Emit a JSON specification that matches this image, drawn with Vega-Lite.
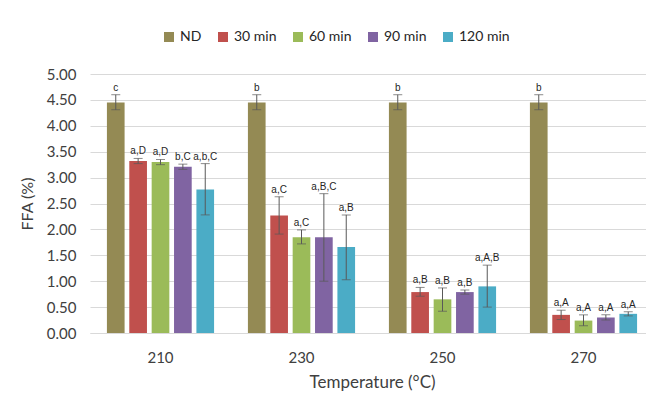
{
  "$schema": "https://vega.github.io/schema/vega-lite/v6.json",
  "width": 564,
  "height": 259,
  "autosize": "none",
  "padding": {"left": 90, "top": 74, "right": 0, "bottom": 72},
  "background": "white",
  "config": {
    "view": {"stroke": null},
    "font": "Lato",
    "axis": {"labelFont": "Lato", "titleFont": "Lato", "labelColor": "#404040", "titleColor": "#404040", "titleFontWeight": "normal"},
    "axisY": {"labelOverlap": false, "labelFontSize": 15, "titleFontSize": 16, "labelPadding": 14, "titlePadding": 11, "ticks": false, "domain": false, "gridColor": "#d9d9d9", "gridWidth": 1},
    "legend": {"labelFont": "Lato"}
  },
  "data": {
    "values": [
      {"temp": "210", "time": "ND", "ffa": 4.45, "lo": 4.31, "hi": 4.60, "sig": "c"},
      {"temp": "210", "time": "30 min", "ffa": 3.32, "lo": 3.27, "hi": 3.37, "sig": "a,D"},
      {"temp": "210", "time": "60 min", "ffa": 3.30, "lo": 3.25, "hi": 3.35, "sig": "a,D"},
      {"temp": "210", "time": "90 min", "ffa": 3.21, "lo": 3.16, "hi": 3.26, "sig": "b,C"},
      {"temp": "210", "time": "120 min", "ffa": 2.77, "lo": 2.28, "hi": 3.27, "sig": "a,b,C"},
      {"temp": "230", "time": "ND", "ffa": 4.45, "lo": 4.31, "hi": 4.60, "sig": "b"},
      {"temp": "230", "time": "30 min", "ffa": 2.27, "lo": 1.91, "hi": 2.63, "sig": "a,C"},
      {"temp": "230", "time": "60 min", "ffa": 1.85, "lo": 1.72, "hi": 1.99, "sig": "a,C"},
      {"temp": "230", "time": "90 min", "ffa": 1.85, "lo": 1.00, "hi": 2.69, "sig": "a,B,C"},
      {"temp": "230", "time": "120 min", "ffa": 1.66, "lo": 1.03, "hi": 2.28, "sig": "a,B"},
      {"temp": "250", "time": "ND", "ffa": 4.45, "lo": 4.31, "hi": 4.60, "sig": "b"},
      {"temp": "250", "time": "30 min", "ffa": 0.79, "lo": 0.71, "hi": 0.88, "sig": "a,B"},
      {"temp": "250", "time": "60 min", "ffa": 0.65, "lo": 0.42, "hi": 0.87, "sig": "a,B"},
      {"temp": "250", "time": "90 min", "ffa": 0.79, "lo": 0.75, "hi": 0.83, "sig": "a,B"},
      {"temp": "250", "time": "120 min", "ffa": 0.90, "lo": 0.50, "hi": 1.31, "sig": "a,A,B"},
      {"temp": "270", "time": "ND", "ffa": 4.45, "lo": 4.31, "hi": 4.60, "sig": "b"},
      {"temp": "270", "time": "30 min", "ffa": 0.35, "lo": 0.26, "hi": 0.44, "sig": "a,A"},
      {"temp": "270", "time": "60 min", "ffa": 0.24, "lo": 0.14, "hi": 0.35, "sig": "a,A"},
      {"temp": "270", "time": "90 min", "ffa": 0.30, "lo": 0.25, "hi": 0.35, "sig": "a,A"},
      {"temp": "270", "time": "120 min", "ffa": 0.37, "lo": 0.33, "hi": 0.41, "sig": "a,A"}
    ]
  },
  "encoding": {
    "x": {
      "field": "temp", "type": "nominal",
      "scale": {"paddingInner": 0.24, "paddingOuter": 0.12},
      "axis": {
        "title": "Temperature (°C)", "labelAngle": 0, "labelFontSize": 15, "titleFontSize": 17,
        "labelPadding": 17, "titlePadding": 9, "ticks": false,
        "domainColor": "#d9d9d9", "domainWidth": 1
      }
    },
    "xOffset": {
      "field": "time", "type": "nominal",
      "sort": ["ND", "30 min", "60 min", "90 min", "120 min"],
      "scale": {"paddingInner": 0.21}
    }
  },
  "layer": [
    {
      "mark": {"type": "bar"},
      "encoding": {
        "y": {
          "field": "ffa", "type": "quantitative",
          "scale": {"domain": [0, 5], "nice": false},
          "axis": {"title": "FFA (%)", "values": [0, 0.5, 1, 1.5, 2, 2.5, 3, 3.5, 4, 4.5, 5], "format": ".2f"}
        },
        "color": {
          "field": "time", "type": "nominal",
          "sort": ["ND", "30 min", "60 min", "90 min", "120 min"],
          "scale": {"domain": ["ND", "30 min", "60 min", "90 min", "120 min"], "range": ["#948A54", "#C0504D", "#9BBB59", "#8064A2", "#4BACC6"]},
          "legend": {
            "title": null, "orient": "none", "direction": "horizontal", "legendX": 72, "legendY": -44,
            "symbolType": "square", "symbolSize": 100, "symbolStrokeWidth": 0, "labelFontSize": 14,
            "labelColor": "#262626", "labelOffset": 4, "columnPadding": 14, "padding": 0
          }
        }
      }
    },
    {
      "mark": {"type": "rule", "color": "#595959", "strokeWidth": 1},
      "encoding": {
        "y": {"field": "lo", "type": "quantitative", "axis": {"title": "FFA (%)", "values": [0, 0.5, 1, 1.5, 2, 2.5, 3, 3.5, 4, 4.5, 5], "format": ".2f"}},
        "y2": {"field": "hi"}
      }
    },
    {
      "mark": {"type": "tick", "color": "#595959", "thickness": 1, "size": 9},
      "encoding": {"y": {"field": "lo", "type": "quantitative", "axis": {"title": "FFA (%)", "values": [0, 0.5, 1, 1.5, 2, 2.5, 3, 3.5, 4, 4.5, 5], "format": ".2f"}}}
    },
    {
      "mark": {"type": "tick", "color": "#595959", "thickness": 1, "size": 9},
      "encoding": {"y": {"field": "hi", "type": "quantitative", "axis": {"title": "FFA (%)", "values": [0, 0.5, 1, 1.5, 2, 2.5, 3, 3.5, 4, 4.5, 5], "format": ".2f"}}}
    },
    {
      "mark": {"type": "text", "font": "Liberation Sans", "fontSize": 10, "color": "#262626", "baseline": "bottom", "dy": -2},
      "encoding": {
        "y": {"field": "hi", "type": "quantitative", "axis": {"title": "FFA (%)", "values": [0, 0.5, 1, 1.5, 2, 2.5, 3, 3.5, 4, 4.5, 5], "format": ".2f"}},
        "text": {"field": "sig"}
      }
    }
  ]
}
